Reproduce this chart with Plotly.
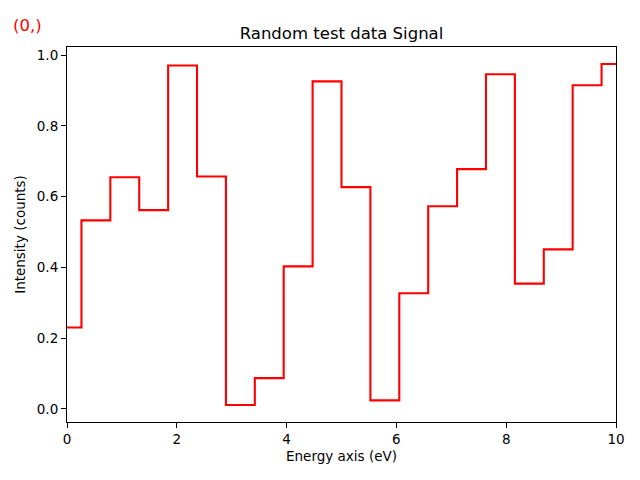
import numpy as np
import plotly.graph_objects as go

energy = list(np.linspace(0, 10, 20))
intensity = [0.230, 0.533, 0.655, 0.562, 0.971, 0.657, 0.011, 0.087, 0.403, 0.926,
             0.627, 0.024, 0.327, 0.573, 0.678, 0.946, 0.354, 0.451, 0.915, 0.975]
x_ticks = [0, 2, 4, 6, 8, 10]
y_ticks = [0.0, 0.2, 0.4, 0.6, 0.8, 1.0]

ymin, ymax = min(intensity), max(intensity)
pad = 0.05 * (ymax - ymin)

FONT = "DejaVu Sans"

fig = go.Figure()
fig.add_trace(go.Scatter(x=energy, y=intensity, mode="lines", line_shape="hvh",
                         line=dict(color="red", width=2.1), showlegend=False))

axis_common = dict(showline=True, linecolor="black", linewidth=1.1, mirror=True,
                   ticks="outside", ticklen=5, tickwidth=1.1, tickcolor="black",
                   showgrid=False, zeroline=False,
                   tickfont=dict(family=FONT, size=13.5, color="black"))

fig.update_layout(
    width=640, height=480,
    margin=dict(l=67, r=24, t=47, b=58),
    plot_bgcolor="white", paper_bgcolor="white",
    font=dict(family=FONT, color="black"),
    title=dict(text="Random test data Signal", x=(67 + 616) / 2 / 640, xanchor="center",
               y=1 - 33 / 480, yanchor="middle",
               font=dict(family=FONT, size=16.5, color="black")),
    xaxis=dict(range=[0, 10], tickvals=x_ticks, ticktext=[str(v) for v in x_ticks],
               title=dict(text="Energy axis (eV)", font=dict(family=FONT, size=13.5), standoff=5),
               **axis_common),
    yaxis=dict(range=[ymin - pad, ymax + pad], tickvals=y_ticks,
               ticktext=[f"{v:.1f}" for v in y_ticks],
               title=dict(text="Intensity (counts)", font=dict(family=FONT, size=13.5), standoff=8),
               **axis_common),
)

fig.add_annotation(text="(0,)", xref="paper", yref="paper", x=-67 / 549 + 11 / 549, y=1 + 21 / 375,
                   xanchor="left", yanchor="middle", showarrow=False,
                   font=dict(family=FONT, size=16.5, color="red"))

fig.write_html("out.html")
